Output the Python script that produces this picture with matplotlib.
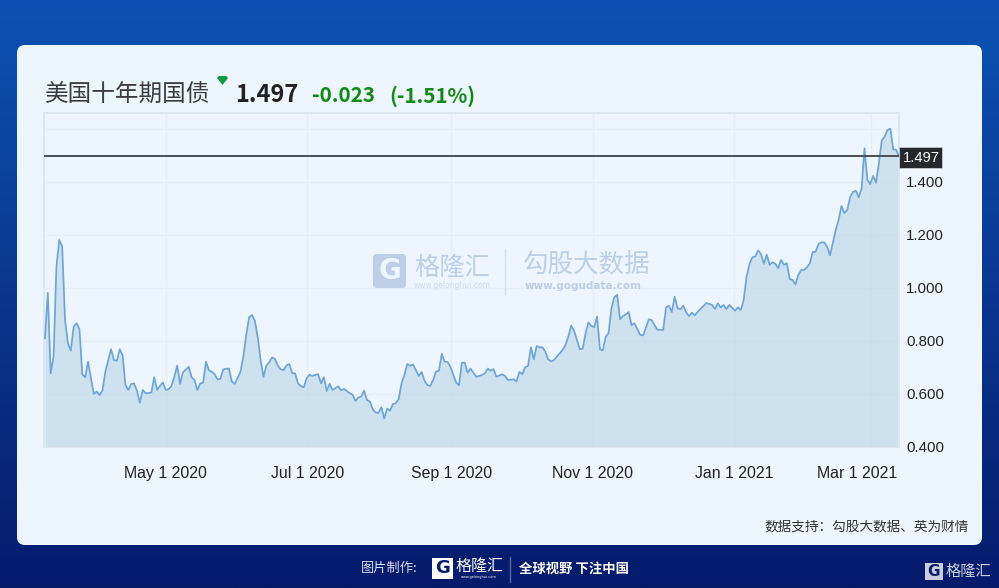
import matplotlib
matplotlib.use('Agg')
import matplotlib.pyplot as plt
from matplotlib.patches import FancyBboxPatch, Polygon, Rectangle
from matplotlib.transforms import ScaledTranslation
import numpy as np
import pandas as pd

plt.rcParams['font.family'] = ['Noto Sans CJK SC', 'DejaVu Sans']

yields = [
    .81, .982, .678, .741, 1.08, 1.181, 1.156, .879, .791, .764,
    .854, .867, .845, .674, .663, .722, .659, .6, .609, .596,
    .613, .684, .726, .769, .728, .725, .769, .747, .634, .615,
    .638, .64, .613, .567, .615, .603, .604, .605, .663, .615,
    .63, .644, .615, .618, .63, .665, .707, .638, .682, .692,
    .703, .663, .653, .615, .64, .642, .722, .69, .684, .675,
    .655, .657, .693, .695, .696, .647, .638, .66, .684, .741,
    .823, .889, .898, .877, .814, .728, .665, .707, .72, .738,
    .732, .707, .693, .69, .708, .713, .678, .678, .64, .63,
    .625, .659, .673, .668, .672, .675, .64, .663, .611, .638,
    .615, .622, .629, .614, .619, .611, .603, .597, .574, .587,
    .59, .613, .577, .572, .542, .53, .528, .55, .508, .545,
    .537, .562, .565, .58, .64, .672, .713, .707, .711, .69,
    .668, .683, .65, .634, .63, .653, .684, .688, .751, .722,
    .721, .703, .672, .643, .633, .718, .718, .68, .696, .68,
    .665, .668, .672, .678, .696, .688, .694, .665, .67, .674,
    .668, .653, .654, .655, .648, .683, .675, .701, .706, .776,
    .731, .781, .776, .776, .76, .731, .723, .728, .741, .753,
    .766, .784, .816, .858, .839, .804, .769, .771, .829, .87,
    .857, .852, .892, .769, .764, .816, .829, .923, .965, .974,
    .882, .894, .90, .909, .86, .867, .845, .823, .821, .85,
    .882, .879, .86, .842, .842, .842, .927, .933, .909, .967,
    .923, .92, .933, .908, .894, .907, .897, .91, .921, .932,
    .943, .94, .936, .921, .942, .926, .936, .92, .936, .925,
    .914, .927, .917, .955, 1.043, 1.09, 1.116, 1.118, 1.141, 1.128,
    1.091, 1.126, 1.087, 1.097, 1.091, 1.075, 1.106, 1.087, 1.093, 1.034,
    1.03, 1.013, 1.049, 1.068, 1.068, 1.078, 1.093, 1.136, 1.136, 1.166,
    1.172, 1.172, 1.156, 1.123, 1.17, 1.219, 1.257, 1.309, 1.282, 1.294,
    1.342, 1.362, 1.367, 1.342, 1.376, 1.527, 1.408, 1.392, 1.423, 1.397,
    1.47, 1.556, 1.571, 1.596, 1.601, 1.523, 1.521, 1.497,
]
dates = pd.date_range('2020-03-10', '2021-03-13', periods=len(yields))
last_value = 1.497

x_ticks = ['2020-05-01', '2020-07-01', '2020-09-01', '2020-11-01', '2021-01-01', '2021-03-01']
x_labels = ['May 1 2020', 'Jul 1 2020', 'Sep 1 2020', 'Nov 1 2020', 'Jan 1 2021', 'Mar 1 2021']
y_ticks = [0.4, 0.6, 0.8, 1.0, 1.2, 1.4, 1.6]
y_labels = ['0.400', '0.600', '0.800', '1.000', '1.200', '1.400', '']

W, H = 999, 588
card = '#edf6fe'
fig = plt.figure(figsize=(W / 100, H / 100), dpi=100)

# page chrome in pixel coordinates
bg = fig.add_axes([0, 0, 1, 1])
bg.set_xlim(0, W)
bg.set_ylim(H, 0)
bg.axis('off')
top_col = np.array([0x0c, 0x52, 0xb4]) / 255
bot_col = np.array([0x06, 0x1b, 0x6c]) / 255
t = np.linspace(0, 1, 256)[:, None, None]
bg.imshow(top_col * (1 - t) + bot_col * t, extent=[0, W, H, 0], aspect='auto')
bg.add_patch(FancyBboxPatch((17, 45), 965, 500, boxstyle='round,pad=0,rounding_size=8',
                            fc=card, ec='none'))

bg.text(45, 95, '美国十年期国债', fontsize=17, color='#3c3c3c', va='center', weight='medium')
bg.add_patch(Polygon([(217, 78), (219, 76), (226, 76), (228, 78), (222.5, 85)], fc='#0f9a3e', ec='none'))
bg.text(235, 95, '1.497', fontsize=17, color='#222222', va='center', weight='bold')
bg.text(312, 96, '-0.023', fontsize=14.8, color='#118a11', va='center', weight='bold')
bg.text(389, 96, '(-1.51%)', fontsize=14.8, color='#118a11', va='center', weight='bold')

bg.text(969, 526, '数据支持：勾股大数据、英为财情', fontsize=9.8, color='#333333', ha='right', va='center')

# footer
bg.text(361, 568, '图片制作:', fontsize=9.5, color='#d5dcf0', va='center')
bg.add_patch(Rectangle((432, 558), 21, 21, fc='white', ec='none'))
bg.text(442.5, 568, 'G', fontsize=13, color='#061b6c', ha='center', va='center', weight='bold', family='DejaVu Sans')
bg.text(456, 566, '格隆汇', fontsize=11.5, color='white', va='center')
bg.text(479, 577, 'www.gelonghui.com', fontsize=2.5, color='white', ha='center', va='center', family='DejaVu Sans')
bg.plot([510, 510], [557, 582], color='#5a6ba6', lw=1)
bg.text(519, 569, '全球视野 下注中国', fontsize=9.6, color='white', va='center', weight='bold')
bg.add_patch(Rectangle((925, 563), 18, 17, fc='#c9cfdf', ec='none'))
bg.text(934, 571, 'G', fontsize=11, color='#061b6c', ha='center', va='center', weight='bold', family='DejaVu Sans')
bg.text(946, 571, '格隆汇', fontsize=11, color='#c9cfdf', va='center')

# price panel
ax = fig.add_axes([44 / W, 1 - 447 / H, 855 / W, 334 / H])
ax.patch.set_alpha(0)
ax.plot(dates, yields, color='#6fa4d6', lw=1.25, zorder=3)
ax.fill_between(dates, yields, 0.4, color='#b4d0e2', alpha=0.55, lw=0, zorder=2)
ax.axhline(last_value, color='#4a4d52', lw=1.4, zorder=4)

ax.set_xlim(dates[0] - pd.Timedelta(days=0.4), dates[-1])
ax.set_ylim(0.4, 1.66)
ax.set_xticks(pd.to_datetime(x_ticks))
ax.set_xticklabels(x_labels, family='Liberation Sans', fontsize=11.4, color='#222222')
ax.yaxis.tick_right()
ax.set_yticks(y_ticks)
ax.set_yticklabels(y_labels, family='Liberation Sans', fontsize=10.8, color='#222222')
ax.tick_params(axis='both', length=0)
ax.tick_params(axis='x', pad=14)
ax.tick_params(axis='y', pad=5)
ax.grid(True, color='#e6eff7', lw=1, zorder=1)
ax.set_axisbelow(True)
for s in ['top', 'left', 'right']:
    ax.spines[s].set_color('#dbe8f2')
    ax.spines[s].set_linewidth(1.4)
ax.spines['bottom'].set_color('#dbe8f2')
ax.spines['bottom'].set_linewidth(0.8)

# last tick label sits inside the panel edge
last_lbl = ax.get_xticklabels()[-1]
last_lbl.set_transform(last_lbl.get_transform() + ScaledTranslation(-14 / 100, 0, fig.dpi_scale_trans))

# overlay for the price tag and watermark
fg = fig.add_axes([0, 0, 1, 1])
fg.set_xlim(0, W)
fg.set_ylim(H, 0)
fg.axis('off')
fg.patch.set_alpha(0)
fg.add_patch(Rectangle((899, 147), 43, 21, fc='#26282b', ec='#c8ccd0', lw=0.6))
fg.text(921, 157.5, '1.497', family='Liberation Sans', fontsize=10.6, color='white', ha='center', va='center')

wm = '#bccfe7'
fg.add_patch(FancyBboxPatch((373, 254), 33, 34, boxstyle='round,pad=0,rounding_size=4', fc=wm, ec='none'))
fg.text(389.5, 271, 'G', fontsize=20, color=card, ha='center', va='center', weight='bold', family='DejaVu Sans')
fg.text(414, 268, '格隆汇', fontsize=18.2, color=wm, va='center', weight='medium')
fg.text(414, 286, 'www.gelonghui.com', fontsize=5.5, color='#cddbec', va='center', family='DejaVu Sans')
fg.plot([504.5, 504.5], [249, 294], color='#d3e0ee', lw=1)
fg.text(523, 266, '勾股大数据', fontsize=18.4, color=wm, va='center', weight='medium')
fg.text(525, 286, 'www.gogudata.com', fontsize=7.5, color=wm, va='center', family='DejaVu Sans', weight='bold')

plt.savefig('out.png', dpi=100)
